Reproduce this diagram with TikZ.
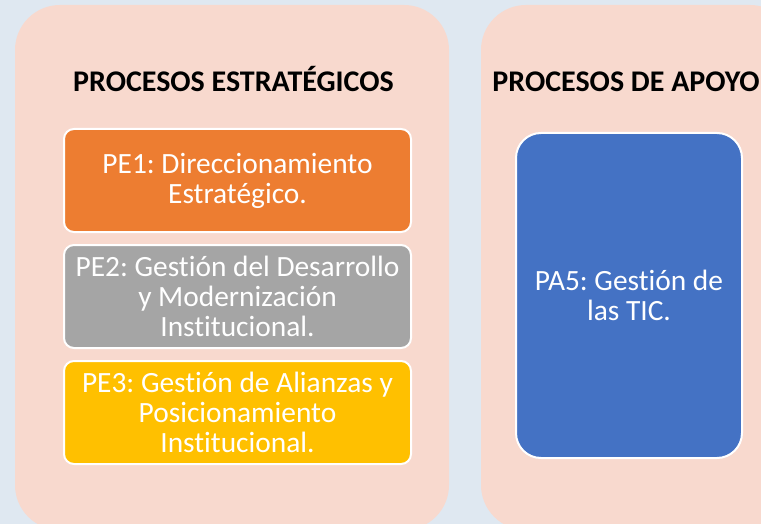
\documentclass[tikz,border=0pt]{standalone}
\usepackage{fontspec}
\setmainfont{Carlito}[Ligatures=NoCommon]
\frenchspacing
\usetikzlibrary{positioning}
\definecolor{fondo}{HTML}{DFE8F1}
\definecolor{panel}{HTML}{F8D9CE}
\definecolor{naranja}{HTML}{ED7D31}
\definecolor{gris}{HTML}{A5A5A5}
\definecolor{oro}{HTML}{FFC000}
\definecolor{azul}{HTML}{4472C4}
\tikzset{
    proceso/.style={draw=white, line width=2pt, rounded corners=10pt, text=white,
        align=center, minimum width=347pt, minimum height=103pt, inner sep=0pt,
        outer sep=0pt, font=\fontsize{29.4}{30}\selectfont},
    titulo/.style={font=\fontsize{30}{30}\selectfont\bfseries, anchor=base}
}

\begin{document}
\begin{tikzpicture}[x=1pt, y=-1pt]
    \useasboundingbox (0, 0) rectangle (761, 524);
    \clip (0, 0) rectangle (761, 524);
    \fill[fondo] (0, 0) rectangle (761, 524);
    % paneles
    \fill[panel, rounded corners=45pt] (15, 5) rectangle (449, 530);
    \fill[panel, rounded corners=45pt] (481, 5) rectangle (795, 530);
    \node[titulo] (estr) at (233.5, 92) {PROCESOS ESTRATÉGICOS};
    \node[titulo] (apoyo) at (626, 92) {PROCESOS DE APOYO};
    % procesos estrategicos
    \node[proceso, fill=naranja] (pe1) at (237.5, 180.5) {PE1: Direccionamiento\\Estratégico.};
    \node[proceso, fill=gris, below=13pt of pe1] (pe2) {PE2: Gestión del Desarrollo\\y Modernización\\Institucional.};
    \node[proceso, fill=oro, below=13pt of pe2] (pe3) {PE3: Gestión de Alianzas y\\Posicionamiento\\Institucional.};
    % procesos de apoyo
    \node[proceso, fill=azul, minimum width=226pt, minimum height=325pt, rounded corners=25pt]
        (pa5) at (629, 295.5) {PA5: Gestión de\\las TIC.};
\end{tikzpicture}
\end{document}
